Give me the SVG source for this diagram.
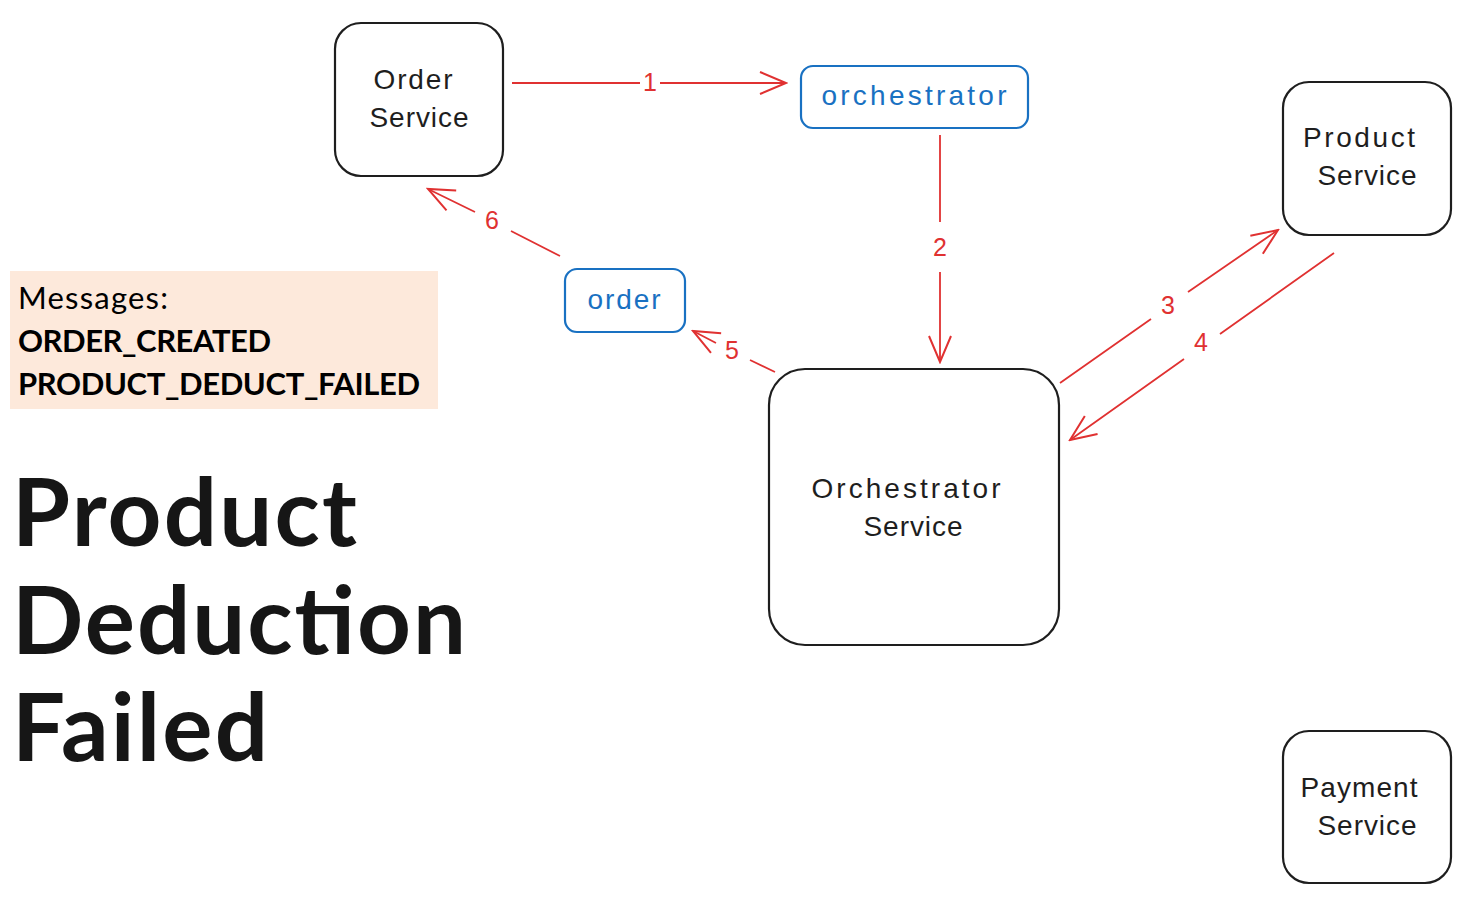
<svg xmlns="http://www.w3.org/2000/svg" width="1465" height="898" viewBox="0 0 1465 898">
<style>
.box{fill:#fff;stroke:#1e1e1e;stroke-width:2.2}
.topic{fill:#fff;stroke:#1971c2;stroke-width:2.2}
.hand{font-family:"Liberation Sans","DejaVu Sans",sans-serif;font-size:28px;fill:#1e1e1e;text-anchor:middle}
.blue{fill:#1971c2}
.conn{stroke:#e03131;stroke-width:1.8;fill:none}
.lbl{font-family:"Liberation Sans","DejaVu Sans",sans-serif;font-size:25px;fill:#e03131;text-anchor:middle}
.cal{font-family:Lato,"Open Sans",sans-serif;fill:#000}
.big{font-family:Lato,"Open Sans",sans-serif;font-size:94px;font-weight:bold;fill:#161616}
</style>
<defs>
<marker id="ah" viewBox="0 0 30 30" refX="28" refY="15" markerWidth="30" markerHeight="30" markerUnits="userSpaceOnUse" orient="auto">
<path d="M2 4 L28 15 L2 26" fill="none" stroke="#e03131" stroke-width="2"/>
</marker>
</defs>
<rect x="10" y="271" width="428" height="138" fill="#fde9db"/>
<text class="cal" x="18" y="309" font-size="31" textLength="150">Messages:</text>
<text class="cal" x="18" y="352" font-size="31" font-weight="bold" textLength="253">ORDER_CREATED</text>
<text class="cal" x="18" y="395" font-size="31" font-weight="bold" textLength="402">PRODUCT_DEDUCT_FAILED</text>
<text class="big" x="12" y="546" textLength="345">Product</text>
<text class="big" x="12" y="654" textLength="454">Deduction</text>
<text class="big" x="12" y="761" textLength="256">Failed</text>
<g id="connectors">
<path class="conn" d="M512 83 L640 83 M660 83 L786 83" marker-end="url(#ah)"/>
<path class="conn" d="M940 135 L940 222 M940 272 L940 362" marker-end="url(#ah)"/>
<path class="conn" d="M1060 383 L1151 319 M1188 292 L1278 230" marker-end="url(#ah)"/>
<path class="conn" d="M1334 253 L1220 334 M1184 359 L1070 440" marker-end="url(#ah)"/>
<path class="conn" d="M775 372 L750 360 M716 343 L693 331" marker-end="url(#ah)"/>
<path class="conn" d="M560 256 L511 231 M475 212 L428 189" marker-end="url(#ah)"/>
<text class="lbl" x="650" y="91">1</text>
<text class="lbl" x="940" y="256">2</text>
<text class="lbl" x="1168" y="314">3</text>
<text class="lbl" x="1201" y="351">4</text>
<text class="lbl" x="732" y="359">5</text>
<text class="lbl" x="492" y="229">6</text>
</g>
<g id="order-service">
<rect class="box" x="335" y="23" width="168" height="153" rx="26"/>
<text class="hand" x="413" y="89" textLength="79">Order</text>
<text class="hand" x="419" y="127" textLength="99">Service</text>
</g>
<g id="orchestrator-topic">
<rect class="topic" x="801" y="66" width="227" height="62" rx="12"/>
<text class="hand blue" x="914" y="105" textLength="185">orchestrator</text>
</g>
<g id="product-service">
<rect class="box" x="1283" y="82" width="168" height="153" rx="26"/>
<text class="hand" x="1359" y="147" textLength="112">Product</text>
<text class="hand" x="1367" y="185" textLength="99">Service</text>
</g>
<g id="order-topic">
<rect class="topic" x="565" y="269" width="120" height="63" rx="12"/>
<text class="hand blue" x="624" y="309" textLength="73">order</text>
</g>
<g id="orchestrator-service">
<rect class="box" x="769" y="369" width="290" height="276" rx="36"/>
<text class="hand" x="906" y="498" textLength="189">Orchestrator</text>
<text class="hand" x="913" y="536" textLength="99">Service</text>
</g>
<g id="payment-service">
<rect class="box" x="1283" y="731" width="168" height="152" rx="26"/>
<text class="hand" x="1359" y="797" textLength="117">Payment</text>
<text class="hand" x="1367" y="835" textLength="99">Service</text>
</g>
</svg>
